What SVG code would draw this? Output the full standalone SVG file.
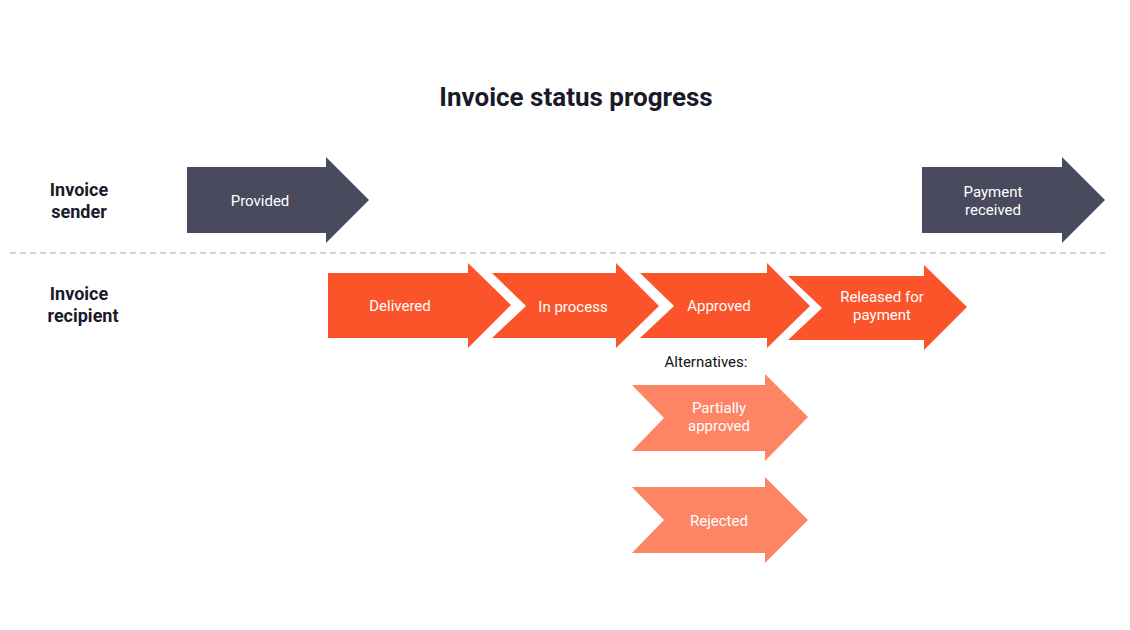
<svg xmlns="http://www.w3.org/2000/svg" width="1130" height="630" viewBox="0 0 1130 630">
<style>
.t{font-family:Roboto,"Liberation Sans",sans-serif;fill:#fff;font-size:15px;text-anchor:middle}
.h{font-family:Roboto,"Liberation Sans",sans-serif;fill:#1a1a2a;font-weight:bold;text-anchor:middle}
.d{fill:#4a4a5e}.o{fill:#fb542b}.l{fill:#fd8566}
</style>
<rect width="1130" height="630" fill="#fff"/>
<text class="h" x="576" y="106" font-size="26">Invoice status progress</text>
<text class="h" x="79" y="196" font-size="18">Invoice</text>
<text class="h" x="79" y="218" font-size="18">sender</text>
<text class="h" x="79" y="300" font-size="18">Invoice</text>
<text class="h" x="83" y="322" font-size="18">recipient</text>
<g id="connectors"><line x1="10" y1="253" x2="1105" y2="253" stroke="#aaa" stroke-dasharray="6,4" stroke-width="1.2"/></g>
<g id="provided"><polygon class="d" points="187,167 326,167 326,157 369,200 326,243 326,233 187,233"/><text class="t" x="260" y="206">Provided</text></g>
<g id="payment"><polygon class="d" points="922,167 1062,167 1062,157 1105,200 1062,243 1062,233 922,233"/><text class="t" x="993" y="197">Payment</text><text class="t" x="993" y="215">received</text></g>
<g id="delivered"><polygon class="o" points="328,273 468,273 468,263 511,305 468,348 468,338 328,338"/><text class="t" x="400" y="311">Delivered</text></g>
<g id="inprocess"><polygon class="o" points="492,273 616,273 616,263 659,306 616,348 616,338 492,338 526,306"/><text class="t" x="573" y="312">In process</text></g>
<g id="approved"><polygon class="o" points="640,273 767,273 767,263 810,306 767,348 767,338 640,338 674,306"/><text class="t" x="719" y="311">Approved</text></g>
<g id="released"><polygon class="o" points="788,276 924,276 924,265 967,307 924,350 924,340 788,340 822,308"/><text class="t" x="882" y="302">Released for</text><text class="t" x="882" y="320">payment</text></g>
<text x="706" y="367" font-family="Roboto,'Liberation Sans',sans-serif" font-size="15" fill="#111" text-anchor="middle">Alternatives:</text>
<g id="partially"><polygon class="l" points="632,385 765,385 765,374 808,417 765,461 765,451 632,451 664,418"/><text class="t" x="719" y="413">Partially</text><text class="t" x="719" y="431">approved</text></g>
<g id="rejected"><polygon class="l" points="632,487 765,487 765,477 808,520 765,563 765,553 632,553 664,520"/><text class="t" x="719" y="526">Rejected</text></g>
</svg>
